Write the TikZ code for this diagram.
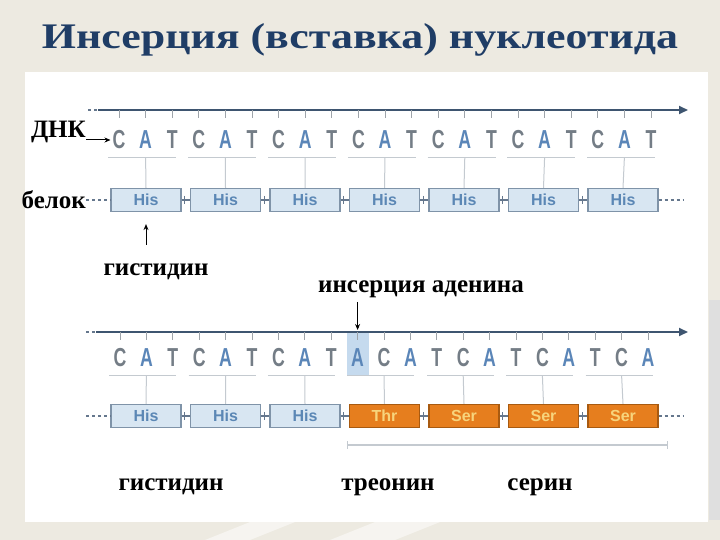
\documentclass[tikz,border=0pt]{standalone}
\usepackage{fontspec}
\setmainfont{Liberation Serif}
\setsansfont{Liberation Sans}
\usepackage{xcolor}
\usepackage{tikz}
\usetikzlibrary{arrows.meta}

\definecolor{slidebg}{HTML}{EDEAE1}
\definecolor{titleblue}{HTML}{1F3D66}
\definecolor{strandcol}{HTML}{3E5570}
\definecolor{basegray}{HTML}{747D86}
\definecolor{baseblue}{HTML}{5B86B8}
\definecolor{hisfill}{HTML}{D8E6F2}
\definecolor{hisdraw}{HTML}{7F93A8}
\definecolor{histext}{HTML}{5B87B5}
\definecolor{orfill}{HTML}{E67E1E}
\definecolor{ordraw}{HTML}{A85A10}
\definecolor{ortext}{HTML}{F7D47C}
\definecolor{codoncol}{HTML}{C4CAD0}
\definecolor{hilite}{HTML}{C5DAEE}

\begin{document}
\begin{tikzpicture}[x=1pt, y=-1pt,
    nuc/.style={font=\sffamily\bfseries\fontsize{26}{26}\selectfont, xscale=0.68, inner sep=0pt, text=basegray},
    nucA/.style={text=baseblue},
    nucC/.style={},
    nucT/.style={},
    hisbox/.style={draw=hisdraw, fill=hisfill, line width=1.2pt, minimum width=70pt,
        minimum height=23pt, inner sep=0pt, text=histext, font=\sffamily\bfseries\fontsize{16}{16}\selectfont},
    mutbox/.style={hisbox, draw=ordraw, fill=orfill, text=ortext},
    note/.style={font=\bfseries\fontsize{25}{25}\selectfont, inner sep=0pt},
    strand/.style={strandcol, line width=2pt, -{Triangle[length=9pt, width=8pt]}},
    tickline/.style={basegray!70, line width=0.8pt},
    codonline/.style={codoncol, line width=1pt},
    link/.style={strandcol!80, line width=1.2pt},
    lead/.style={strandcol!80, line width=1.2pt, dash pattern=on 3pt off 3pt},
    pointer/.style={black, line width=1pt, -{Stealth[length=6pt, width=5pt]}}
]

    % Slide background
    \fill[slidebg] (0,0) rectangle (720,540);
    \fill[white, opacity=0.5] (205,540) -- (250,522) -- (295,522) -- (250,540) -- cycle;
    \fill[white, opacity=0.5] (330,540) -- (375,522) -- (440,522) -- (395,540) -- cycle;
    \fill[gray!25] (709,300) rectangle (720,520);
    \fill[white] (25,72) rectangle (708,522);
    \useasboundingbox (0,0) rectangle (720,540);

    % Title
    \node[font=\bfseries\fontsize{36}{36}\selectfont, xscale=1.22, text=titleblue, anchor=base]
        (title) at (360,49) {Инсерция (вставка) нуклеотида};

    % Normal DNA strand
    \coordinate (s1z) at (88,110);
    \coordinate (s1a) at (98,110);
    \coordinate (s1b) at (688,110);
    \draw[lead] (s1z) -- (s1a);
    \draw[strand] (s1a) -- (s1b);
    \foreach \b [count=\i from 0] in {C,A,T,C,A,T,C,A,T,C,A,T,C,A,T,C,A,T,C,A,T} {
        \pgfmathsetmacro\bx{119+26.6*\i}
        \node[nuc, nuc\b] (d1-\i) at (\bx,140) {\b};
        \draw[tickline] (d1-\i |- s1a) -- ++(0,8);
    }

    % Normal protein
    \foreach \j in {0,...,6} {
        \pgfmathsetmacro\px{146+79.5*\j}
        \node[hisbox] (p1-\j) at (\px,200) {His};
    }
    \foreach \j in {0,...,6} {
        \pgfmathtruncatemacro\a{3*\j}
        \pgfmathtruncatemacro\m{3*\j+1}
        \draw[codonline] (d1-\a.south west) ++(-4,8) -- ++(68,0);
        \draw[codonline] (d1-\m.south) ++(0,8) -- (p1-\j.north);
    }
    \foreach \j [evaluate=\j as \k using int(\j+1)] in {0,...,5} {
        \draw[link] (p1-\j.east) -- (p1-\k.west);
        \draw[link] (p1-\j.east) ++(3,-4) -- ++(0,8);
    }

    \node[note, anchor=east] (dnk) at (86,132) {ДНК};
    \draw[pointer, shorten >=2pt] (dnk.east |- d1-0) -- (d1-0.west);
    \node[note, anchor=east] (belok) at (86,200) {белок};
    \coordinate (t1) at (684,200);
    \draw[lead] (belok.east) -- (p1-0.west);
    \draw[lead] (p1-6.east) -- (t1);

    \node[note] (his1) at (156,272) {гистидин};
    \draw[pointer, shorten <=19pt, shorten >=12pt] (his1.north -| p1-0.south) -- (p1-0.south);

    % Mutant DNA strand
    \fill[hilite] (347,332) rectangle (369,376);
    \coordinate (s2z) at (86,332);
    \coordinate (s2a) at (96,332);
    \coordinate (s2b) at (688,332);
    \draw[lead] (s2z) -- (s2a);
    \draw[strand] (s2a) -- (s2b);
    \foreach \b [count=\i from 0] in {C,A,T,C,A,T,C,A,T,A,C,A,T,C,A,T,C,A,T,C,A} {
        \pgfmathsetmacro\bx{120+26.4*\i}
        \node[nuc, nuc\b] (d2-\i) at (\bx,358) {\b};
        \draw[tickline] (d2-\i |- s2a) -- ++(0,8);
    }

    \node[note] (ins) at (421,289) {инсерция аденина};
    \draw[pointer, shorten <=4pt, shorten >=2pt] (ins.south -| d2-9) -- (d2-9 |- s2a);

    % Mutant protein
    \foreach \nm/\st [count=\j from 0] in {His/hisbox, His/hisbox, His/hisbox,
            Thr/mutbox, Ser/mutbox, Ser/mutbox, Ser/mutbox} {
        \pgfmathsetmacro\px{146+79.5*\j}
        \node[\st] (p2-\j) at (\px,416) {\nm};
    }
    \foreach \j in {0,...,6} {
        \pgfmathtruncatemacro\a{3*\j}
        \pgfmathtruncatemacro\m{3*\j+1}
        \draw[codonline] (d2-\a.south west) ++(-4,8) -- ++(67,0);
        \draw[codonline] (d2-\m.south) ++(0,8) -- (p2-\j.north);
    }
    \foreach \j [evaluate=\j as \k using int(\j+1)] in {0,...,5} {
        \draw[link] (p2-\j.east) -- (p2-\k.west);
        \draw[link] (p2-\j.east) ++(3,-4) -- ++(0,8);
    }
    \coordinate (l2) at (86,416);
    \coordinate (t2) at (684,416);
    \draw[lead] (l2) -- (p2-0.west);
    \draw[lead] (p2-6.east) -- (t2);

    % Frame-shifted part
    \coordinate (f1) at (347,445);
    \coordinate (f2) at (667,445);
    \draw[codonline, line width=1.5pt] (f1) -- (f2);
    \draw[codonline] (f1) ++(0,-4) -- ++(0,8);
    \draw[codonline] (f2) ++(0,-4) -- ++(0,8);

    \node[note] (his2) at (171,487) {гистидин};
    \node[note] (thr) at (388,487) {треонин};
    \node[note] (ser) at (540,487) {серин};

\end{tikzpicture}
\end{document}
